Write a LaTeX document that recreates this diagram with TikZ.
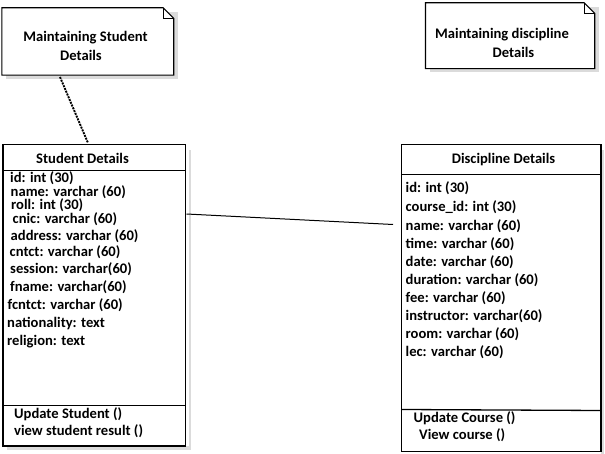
\documentclass[tikz,border=0pt]{standalone}
\usepackage{fontspec}
\setmainfont{Carlito}
\begin{document}
\begin{tikzpicture}[x=1pt,y=-1pt,
  txt/.style={font=\fontsize{14.6}{17}\bfseries\selectfont, inner sep=0pt, anchor=west, text height=10pt, text depth=2.5pt},
  ctxt/.style={font=\fontsize{14.6}{17}\bfseries\selectfont, inner sep=0pt, anchor=center},
  box/.style={draw=black, line width=1.3pt, fill=white, inner sep=0pt},
  shade/.style={fill=black!14, draw=none},
  outline/.style={draw=black, line width=1.1pt, line join=miter}
]
\useasboundingbox (0,0) rectangle (605,454);

% ---------- Note 1 ----------
\fill[shade] (6,12) rectangle (177.5,79);
\node[inner sep=0pt, minimum width=171.5pt, minimum height=67pt] (n1) at (87.75,41.5) {};
\filldraw[outline, fill=white] (n1.north west) -- ([xshift=-10.5pt]n1.north east) -- ([yshift=-10.5pt]n1.north east) -- (n1.south east) -- (n1.south west) -- cycle;
\draw[outline, line width=0.8pt] ([xshift=-10.5pt]n1.north east) -- ([xshift=-10.5pt,yshift=-10.5pt]n1.north east) -- ([yshift=-10.5pt]n1.north east);
\node[ctxt] (n1a) at (85.5,38) {Maintaining Student};
\node[ctxt] (n1b) at (81,55) {Details};

% ---------- Note 2 ----------
\fill[shade] (429.5,7) rectangle (598.5,72.5);
\node[inner sep=0pt, minimum width=168.8pt, minimum height=65.5pt] (n2) at (510.1,35.75) {};
\filldraw[outline, fill=white] (n2.north west) -- ([xshift=-10.5pt]n2.north east) -- ([yshift=-10.5pt]n2.north east) -- (n2.south east) -- (n2.south west) -- cycle;
\draw[outline, line width=0.8pt] ([xshift=-10.5pt]n2.north east) -- ([xshift=-10.5pt,yshift=-10.5pt]n2.north east) -- ([yshift=-10.5pt]n2.north east);
\node[ctxt] (n2a) at (502,35) {Maintaining discipline};
\node[ctxt] (n2b) at (513.5,52) {Details};

% ---------- Student box ----------
\fill[shade] (189,150) rectangle (190.5,449.5);
\fill[shade] (7,446) rectangle (190.5,449.5);
\node[box, minimum width=182.7pt, minimum height=301.5pt] (sd) at (94.35,295.25) {};
\coordinate (sdh1) at (3,170.3);
\coordinate (sdh2) at (185.7,170.3);
\coordinate (sdm1) at (3,405.3);
\coordinate (sdm2) at (185.7,405.3);
\draw[line width=1.3pt] (sdh1) -- (sdh2);
\draw[line width=1.3pt] (sdm1) -- (sdm2);
\node[ctxt] (st) at (82.5,158) {Student Details};
\node[txt] (s1) at (10,179) {id: int (30)};
\node[txt] (s2) at (10.5,193) {name: varchar (60)};
\node[txt] (s3) at (11,206) {roll: int (30)};
\node[txt] (s4) at (12.5,220) {cnic: varchar (60)};
\node[txt] (s5) at (10.5,237) {address: varchar (60)};
\node[txt] (s6) at (9.5,252.5) {cntct: varchar (60)};
\node[txt] (s7) at (10,270) {session: varchar(60)};
\node[txt] (s8) at (10,288) {fname: varchar(60)};
\node[txt] (s9) at (7.5,306) {fcntct: varchar (60)};
\node[txt] (s10) at (7,324) {nationality: text};
\node[txt] (s11) at (7,342) {religion: text};
\node[txt] (sm1) at (14,415) {Update Student ()};
\node[txt] (sm2) at (14,432) {view student result ()};

% ---------- Discipline box ----------
\fill[shade] (601,150) rectangle (603.5,454);
\node[box, minimum width=199.3pt, minimum height=307pt] (dd) at (501.35,298.2) {};
\coordinate (ddh1) at (401.7,174.7);
\coordinate (ddh2) at (601,174.7);
\coordinate (ddm1) at (401.7,409.5);
\coordinate (ddm2) at (601,410.5);
\draw[line width=1.3pt] (ddh1) -- (ddh2);
\draw[line width=1.3pt] (ddm1) -- (ddm2);
\node[ctxt] (dt) at (503.5,160) {Discipline Details};
\node[txt] (d1) at (405.5,189) {id: int (30)};
\node[txt] (d2) at (405.5,208) {course\_id: int (30)};
\node[txt] (d3) at (405.5,226.5) {name: varchar (60)};
\node[txt] (d4) at (405.5,244.5) {time: varchar (60)};
\node[txt] (d5) at (405.5,262.5) {date: varchar (60)};
\node[txt] (d6) at (405.5,281) {duration: varchar (60)};
\node[txt] (d7) at (405.5,298.5) {fee: varchar (60)};
\node[txt] (d8) at (405.5,316.5) {instructor: varchar(60)};
\node[txt] (d9) at (405.5,334.5) {room: varchar (60)};
\node[txt] (d10) at (405.5,352.5) {lec: varchar (60)};
\node[txt] (dm1) at (413.5,418.5) {Update Course ()};
\node[txt] (dm2) at (419,436) {View course ()};

% ---------- Connectors ----------
\coordinate (c1a) at (60,77);
\coordinate (c1b) at (88,143);
\draw[line width=1.9pt, dash pattern=on 2pt off 1pt] (c1a) -- (c1b);
\coordinate (c2a) at (186.5,214);
\coordinate (c2b) at (393,224.5);
\draw[line width=1pt] (c2a) -- (c2b);
\end{tikzpicture}
\end{document}
